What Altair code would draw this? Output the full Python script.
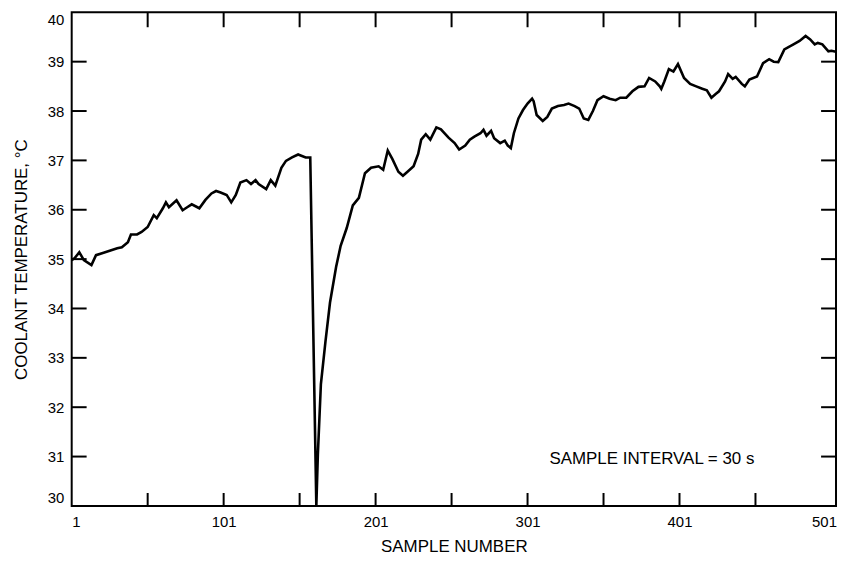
import altair as alt
import pandas as pd

# Data
samples = [1, 3, 6, 9, 14, 17, 21, 27, 31, 34,
           38, 40, 44, 47, 51, 55, 57, 61, 63, 65,
           70, 74, 77, 80, 85, 89, 93, 96, 99, 103,
           106, 109, 112, 116, 119, 122, 124, 129, 132, 135,
           139, 142, 146, 150, 155, 158, 162, 163, 165, 168,
           171, 175, 178, 182, 186, 190, 194, 198, 203, 206,
           209, 212, 216, 219, 222, 226, 229, 231, 234, 237,
           241, 244, 249, 253, 256, 260, 263, 266, 270, 272,
           274, 277, 279, 283, 286, 288, 290, 292, 295, 298,
           301, 304, 305, 307, 311, 314, 317, 321, 325, 328,
           332, 335, 338, 341, 344, 347, 351, 355, 359, 362,
           366, 370, 374, 378, 381, 385, 388, 389, 391, 394,
           397, 400, 404, 408, 412, 416, 419, 422, 425, 427,
           431, 433, 436, 438, 442, 444, 447, 452, 456, 460,
           463, 466, 470, 476, 480, 484, 487, 490, 492, 495,
           499, 501, 504]

temps = [34.98, 35.02, 35.14, 34.98, 34.88, 35.08, 35.12, 35.18, 35.22, 35.24,
         35.34, 35.5, 35.5, 35.55, 35.65, 35.89, 35.83, 36.03, 36.15, 36.05,
         36.19, 35.99, 36.05, 36.11, 36.03, 36.2, 36.33, 36.38, 36.35, 36.3,
         36.15, 36.3, 36.55, 36.6, 36.52, 36.6, 36.52, 36.42, 36.6, 36.49,
         36.85, 36.99, 37.06, 37.12, 37.06, 37.06, 30.0, 31.04, 32.47, 33.33,
         34.12, 34.84, 35.27, 35.63, 36.09, 36.24, 36.74, 36.85, 36.88, 36.81,
         37.2, 37.03, 36.77, 36.69, 36.77, 36.88, 37.13, 37.42, 37.53, 37.42,
         37.67, 37.63, 37.46, 37.35, 37.22, 37.3, 37.42, 37.48, 37.55, 37.62,
         37.5, 37.6, 37.45, 37.35, 37.4, 37.3, 37.25, 37.55, 37.85, 38.02,
         38.15, 38.25, 38.2, 37.92, 37.8, 37.88, 38.05, 38.1, 38.12, 38.15,
         38.1, 38.05, 37.85, 37.82, 38.0, 38.22, 38.3, 38.25, 38.22, 38.27,
         38.27, 38.4, 38.49, 38.5, 38.67, 38.6, 38.5, 38.45, 38.6, 38.85,
         38.8, 38.95, 38.67, 38.55, 38.5, 38.45, 38.42, 38.27, 38.35, 38.4,
         38.6, 38.75, 38.65, 38.69, 38.55, 38.5, 38.64, 38.7, 38.97, 39.05,
         39.0, 38.99, 39.25, 39.35, 39.42, 39.52, 39.45, 39.35, 39.38, 39.35,
         39.21, 39.22, 39.2]

x_labels = [1, 101, 201, 301, 401, 501]
x_ticks = [51, 101, 151, 201, 251, 301, 351, 401, 451]
y_labels = [30, 31, 32, 33, 34, 35, 36, 37, 38, 39, 40]
y_ticks = [31, 32, 33, 34, 35, 36, 37, 38, 39]
annotation = "SAMPLE INTERVAL = 30 s"

W, H = 768, 496
FONT = "Liberation Sans"

df = pd.DataFrame({"sample": samples, "temp": temps})
xt = pd.DataFrame({"sample": x_ticks})
yt = pd.DataFrame({"temp": y_ticks})

xscale = alt.Scale(domain=[1, 504], nice=False, zero=False)
yscale = alt.Scale(domain=[30, 40], nice=False, zero=False)

xaxis = alt.Axis(
    values=x_labels, labelPadding=9, titlePadding=9, format="d", labelFlush=False,
    labelAlign={"expr": "datum.value == 1 ? 'left' : datum.value == 501 ? 'right' : 'center'"},
    labelOffset={"expr": "datum.value == 501 ? 5 : 0"},
)
yaxis = alt.Axis(values=y_labels, labelFlush=True, labelPadding=8, titlePadding=17, format="d")
XT = "SAMPLE NUMBER"
YT = "COOLANT TEMPERATURE, °C"

line = alt.Chart(df).mark_line(color="black", strokeWidth=2.6, clip=True).encode(
    x=alt.X("sample:Q", scale=xscale, axis=xaxis, title=XT),
    y=alt.Y("temp:Q", scale=yscale, axis=yaxis, title=YT),
)

tick_style = dict(color="black", strokeWidth=2)

left_ticks = alt.Chart(yt).mark_rule(**tick_style).encode(
    y=alt.Y("temp:Q", scale=yscale, axis=yaxis, title=YT), x=alt.value(0), x2=alt.value(15))
right_ticks = alt.Chart(yt).mark_rule(**tick_style).encode(
    y=alt.Y("temp:Q", scale=yscale, axis=yaxis, title=YT), x=alt.value(W - 15), x2=alt.value(W))
bottom_ticks = alt.Chart(xt).mark_rule(**tick_style).encode(
    x=alt.X("sample:Q", scale=xscale, axis=xaxis, title=XT), y=alt.value(H - 13), y2=alt.value(H))
top_ticks = alt.Chart(xt).mark_rule(**tick_style).encode(
    x=alt.X("sample:Q", scale=xscale, axis=xaxis, title=XT), y=alt.value(0), y2=alt.value(15))

note = alt.Chart(pd.DataFrame({"t": [annotation]})).mark_text(
    font=FONT, fontSize=17, color="black", align="center", baseline="middle"
).encode(text="t:N", x=alt.value(583), y=alt.value(449))

chart = alt.layer(line, left_ticks, right_ticks, bottom_ticks, top_ticks, note).properties(
    width=W, height=H,
    autosize=alt.AutoSizeParams(type="none"),
    padding={"left": 64, "top": 3, "right": 2, "bottom": 51},
).configure_view(
    stroke="black", strokeWidth=2
).configure_axis(
    labelFont=FONT, labelFontSize=15, labelColor="black",
    titleFont=FONT, titleFontSize=17, titleFontWeight="normal", titleColor="black",
    ticks=False, domain=False, grid=False,
)

chart.save("out.html", embed_options={"renderer": "svg", "actions": False})
